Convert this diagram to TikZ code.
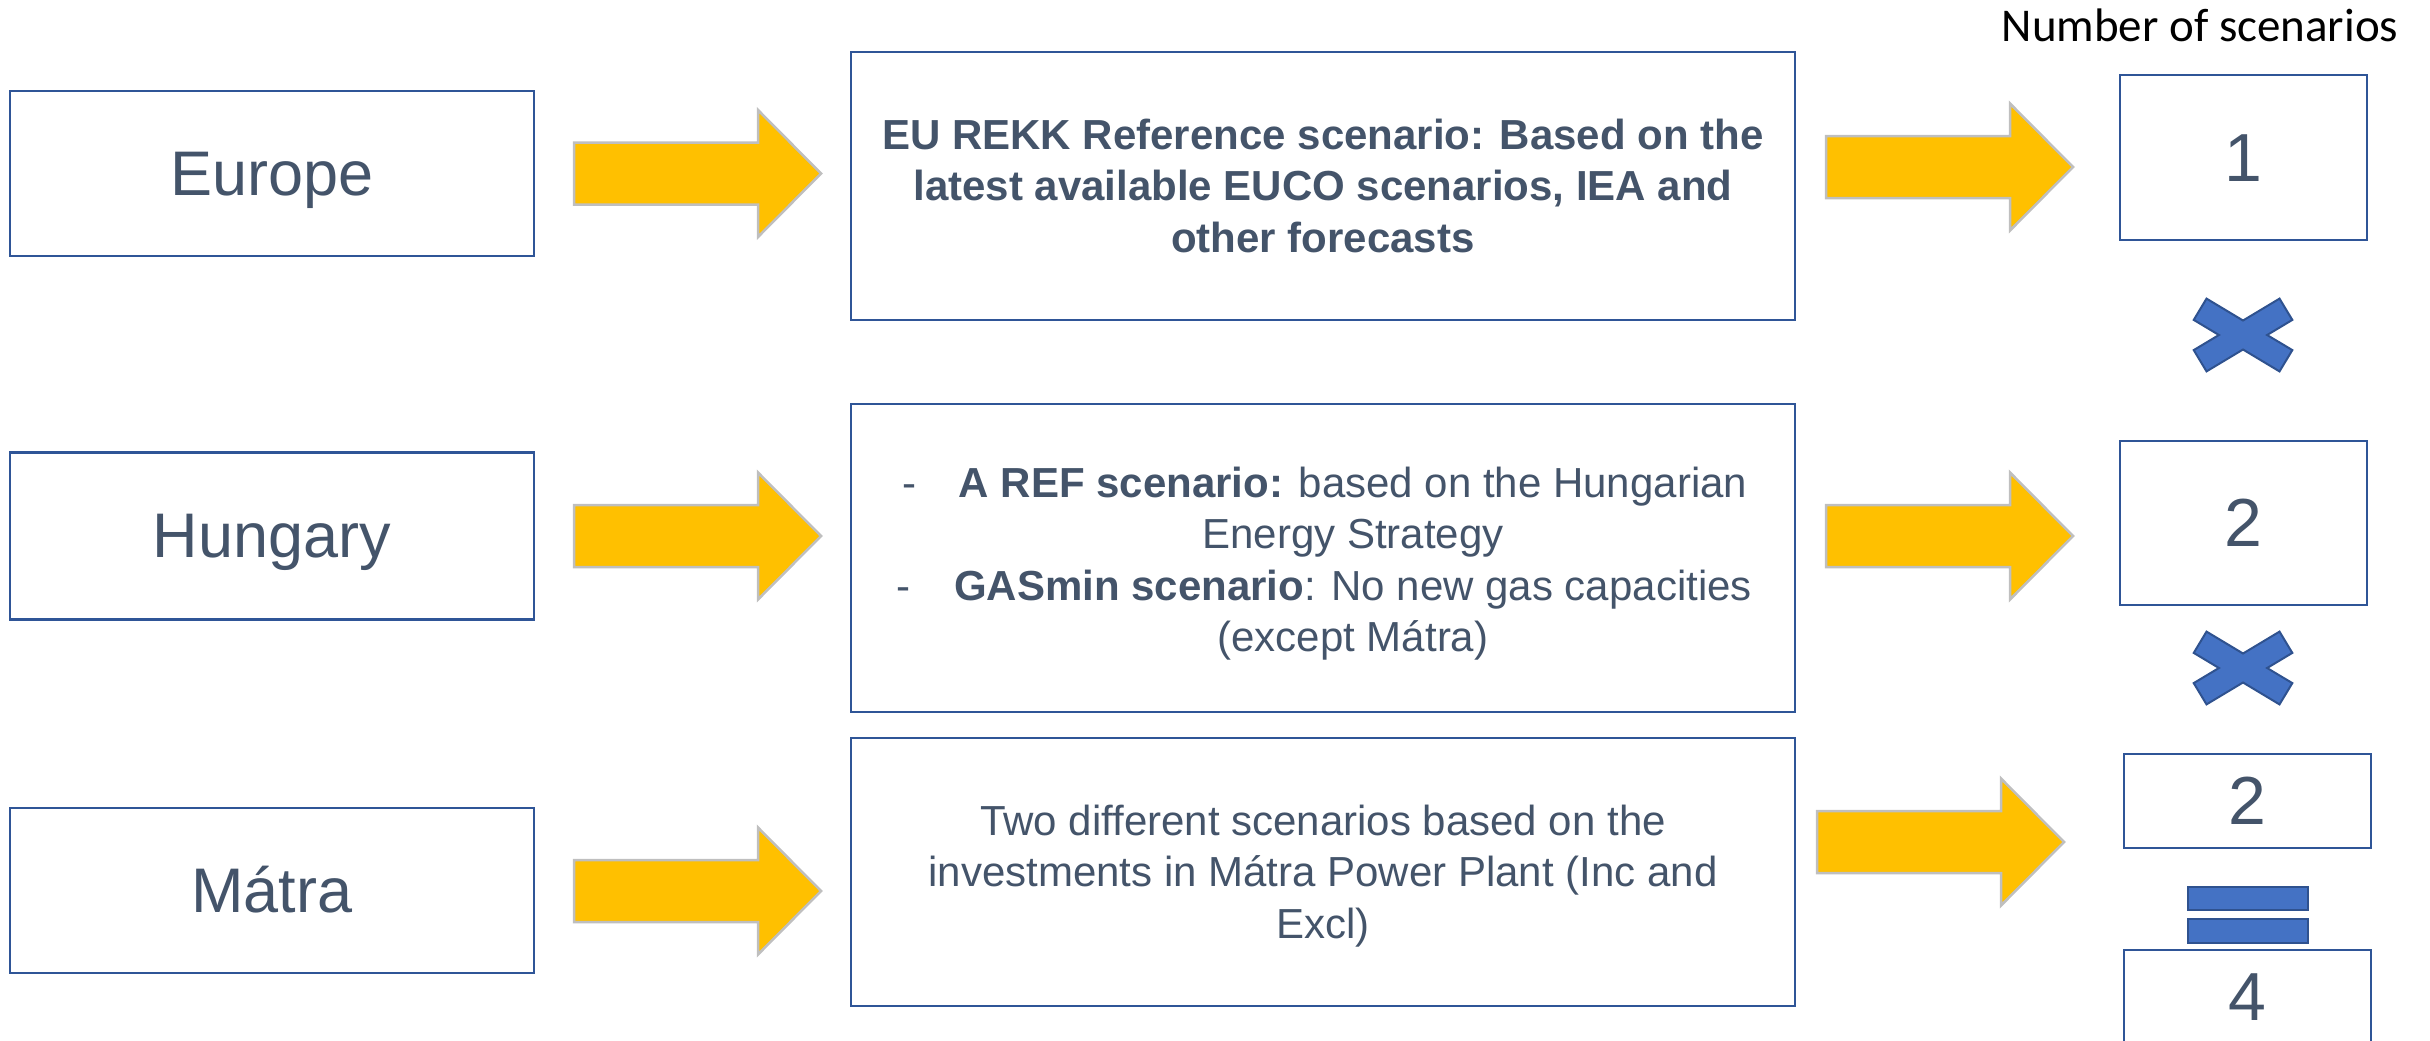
\documentclass[tikz,border=0pt]{standalone}
\usepackage{fontspec}
\setmainfont{Liberation Sans}
\newfontfamily\calibrifont{Carlito}

\definecolor{boxblue}{HTML}{2F5597}
\definecolor{txt}{HTML}{44546A}
\definecolor{arrowfill}{HTML}{FFC000}
\definecolor{arrowedge}{HTML}{BFBFBF}
\definecolor{markfill}{HTML}{4472C4}
\definecolor{markedge}{HTML}{2F528F}

% line strut with the ascent/descent of the sans font
\newcommand\lnstrut{\rule[-0.212em]{0pt}{1.117em}}

\tikzset{
  frame/.style={draw=boxblue, line width=2.8pt, fill=white, inner sep=0pt, outer sep=0pt},
  region/.style={frame, text=txt, font=\fontsize{63}{76}\selectfont},
  body/.style={text=txt, font=\fontsize{42}{51.5}\selectfont, align=center},
  count/.style={frame, text=txt, font=\fontsize{68}{80}\selectfont},
  barrow/.pic={
    \draw[fill=arrowfill, draw=arrowedge, line width=2.5pt, line join=miter]
      (0,-31) -- (184,-31) -- (184,-63.5) -- (247,0) -- (184,63.5) -- (184,31) -- (0,31) -- cycle;
  },
  timesmark/.pic={
    \draw[fill=markfill, draw=markedge, line width=2pt, line join=miter]
      (0,-14.5) -- (36.5,-36.4) -- (49.3,-15.1) -- (24.1,0) -- (49.3,15.1) -- (36.5,36.4)
      -- (0,14.5) -- (-36.5,36.4) -- (-49.3,15.1) -- (-24.1,0) -- (-49.3,-15.1) -- (-36.5,-36.4) -- cycle;
  },
  eqbar/.style={fill=markfill, draw=markedge, line width=1.2pt},
}

\begin{document}
\begin{tikzpicture}[x=1pt,y=-1pt]
\useasboundingbox (0,0) rectangle (2430,1041);
\clip (0,0) rectangle (2430,1041);

% region boxes
\node[region, minimum width=524pt, minimum height=165pt] (europe) at (272,173.5) {\lnstrut Europe};
\node[region, minimum width=524pt, minimum height=167pt] (hungary) at (272,536) {\lnstrut Hungary};
\node[region, minimum width=524pt, minimum height=165pt] (matra) at (272,890.5) {\lnstrut Mátra};

% scenario description boxes
\node[frame, body, minimum width=944pt, minimum height=268pt] (eubox) at (1323,186)
  {\lnstrut\textbf{EU REKK Reference scenario: Based on the}\\
   \lnstrut\textbf{latest available EUCO scenarios, IEA and}\\
   \lnstrut\textbf{other forecasts}};
\node[frame, minimum width=944pt, minimum height=308pt] (hubox) at (1323,558) {};
\node[body] (hutext) at (1353,560)
  {\lnstrut\llap{-\hspace{42pt}}\textbf{A REF scenario:} based on the Hungarian\\
   \lnstrut Energy Strategy\\
   \lnstrut\llap{-\hspace{44pt}}\textbf{GASmin scenario}: No new gas capacities\\
   \lnstrut(except Mátra)};
\node[frame, body, minimum width=944pt, minimum height=268pt] (mabox) at (1323,872)
  {\lnstrut Two different scenarios based on the\\
   \lnstrut investments in Mátra Power Plant (Inc and\\
   \lnstrut Excl)};

% scenario counts
\node[anchor=base, font=\calibrifont\fontsize{47}{56}\selectfont] (numtitle) at (2200,42) {Number of scenarios};
\node[count, minimum width=247pt, minimum height=165pt] (n1) at (2243.5,157.5) {\lnstrut 1};
\node[count, minimum width=247pt, minimum height=164pt] (n2) at (2243.5,523) {\lnstrut 2};
\node[count, minimum width=247pt, minimum height=94pt] (n3) at (2247.5,801) {\lnstrut 2};
\node[count, minimum width=247pt, minimum height=94pt] (total) at (2247.5,997) {\lnstrut 4};

% block arrows
\pic at (574,173.5) {barrow};
\pic at (574,536) {barrow};
\pic at (574,891) {barrow};
\pic at (1826,167) {barrow};
\pic at (1826,536) {barrow};
\pic at (1817,842) {barrow};

% multiplication and equality signs
\pic at (2243,335) {timesmark};
\pic at (2243,668) {timesmark};
\draw[eqbar] (2188,887) rectangle (2308,910);
\draw[eqbar] (2188,919) rectangle (2308,943);
\end{tikzpicture}
\end{document}
